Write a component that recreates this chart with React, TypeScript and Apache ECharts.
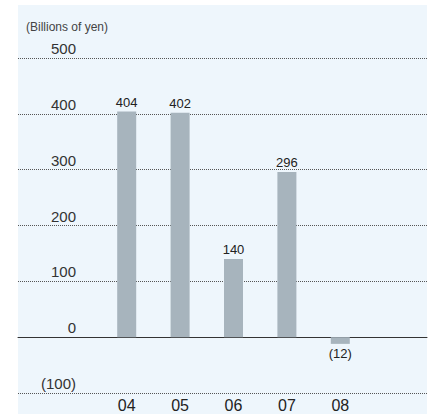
import React, { useEffect, useRef } from "react";
import * as echarts from "echarts";

const categories = ["04", "05", "06", "07", "08"];
const values = [404, 402, 140, 296, -12];
const yMin = -100;
const yMax = 500;
const yStep = 100;
const unitLabel = "(Billions of yen)";

const fmt = (v: number) => (v < 0 ? `(${Math.abs(v)})` : `${v}`);

export default function App() {
  const ref = useRef<HTMLDivElement>(null);
  useEffect(() => {
    if (!ref.current) return;
    const chart = echarts.init(ref.current, undefined, { renderer: "svg" });
    const font = "'Liberation Sans', Arial, Helvetica, sans-serif";
    chart.setOption({
      animation: false,
      backgroundColor: "#ffffff",
      textStyle: { fontFamily: font },
      graphic: [
        {
          type: "rect",
          z: -10,
          shape: { x: 18, y: 5, width: 409, height: 409 },
          style: { fill: "#EEF6FC" },
          silent: true,
        },
        {
          type: "text",
          x: 26,
          y: 27,
          style: {
            text: unitLabel,
            font: `12px ${font}`,
            fill: "#444",
            verticalAlign: "middle",
          },
        },
      ],
      grid: [
        { left: 18, right: 6, top: 58, bottom: 21 },
        { left: 100, right: 66, top: 58, bottom: 21 },
      ],
      xAxis: [
        {
          gridIndex: 0,
          type: "value",
          min: 0,
          max: 1,
          axisLine: { show: true, onZero: true, lineStyle: { color: "#333", width: 1 } },
          axisTick: { show: false },
          axisLabel: { show: false },
          splitLine: { show: false },
        },
        {
          gridIndex: 1,
          type: "category",
          data: categories,
          position: "bottom",
          axisLine: { show: false, onZero: false },
          axisTick: { show: false },
          axisLabel: { color: "#222", fontSize: 16, margin: 4 },
        },
      ],
      yAxis: [
        {
          gridIndex: 0,
          type: "value",
          min: yMin,
          max: yMax,
          interval: yStep,
          axisLine: { show: false },
          axisTick: { show: false },
          axisLabel: {
            inside: true,
            align: "right",
            verticalAlign: "bottom",
            margin: 58,
            padding: [0, 0, 2, 0],
            color: "#333",
            fontSize: 15,
            formatter: (v: number) => fmt(v),
          },
          splitLine: { show: true, lineStyle: { color: "#555", type: [1, 1], width: 1 } },
        },
        {
          gridIndex: 1,
          type: "value",
          min: yMin,
          max: yMax,
          interval: yStep,
          show: false,
          splitLine: { show: false },
        },
      ],
      series: [
        {
          type: "line",
          xAxisIndex: 0,
          yAxisIndex: 0,
          data: [],
        },
        {
          type: "bar",
          xAxisIndex: 1,
          yAxisIndex: 1,
          data: values,
          barWidth: 19,
          itemStyle: { color: "#A7B4BD" },
          label: {
            show: true,
            position: "top",
            distance: 3,
            color: "#222",
            fontSize: 13,
            formatter: (p: any) => fmt(p.value),
          },
          labelLayout: undefined,
        },
      ],
    });
    // negative value label below
    chart.setOption({
      series: [
        {},
        {
          data: values.map((v) =>
            v < 0 ? { value: v, label: { position: "bottom" } } : v
          ),
        },
      ],
    });
    return () => chart.dispose();
  }, []);
  return (
    <div
      ref={ref}
      style={{ position: "fixed", left: 0, top: 0, width: 433, height: 414 }}
    />
  );
}
